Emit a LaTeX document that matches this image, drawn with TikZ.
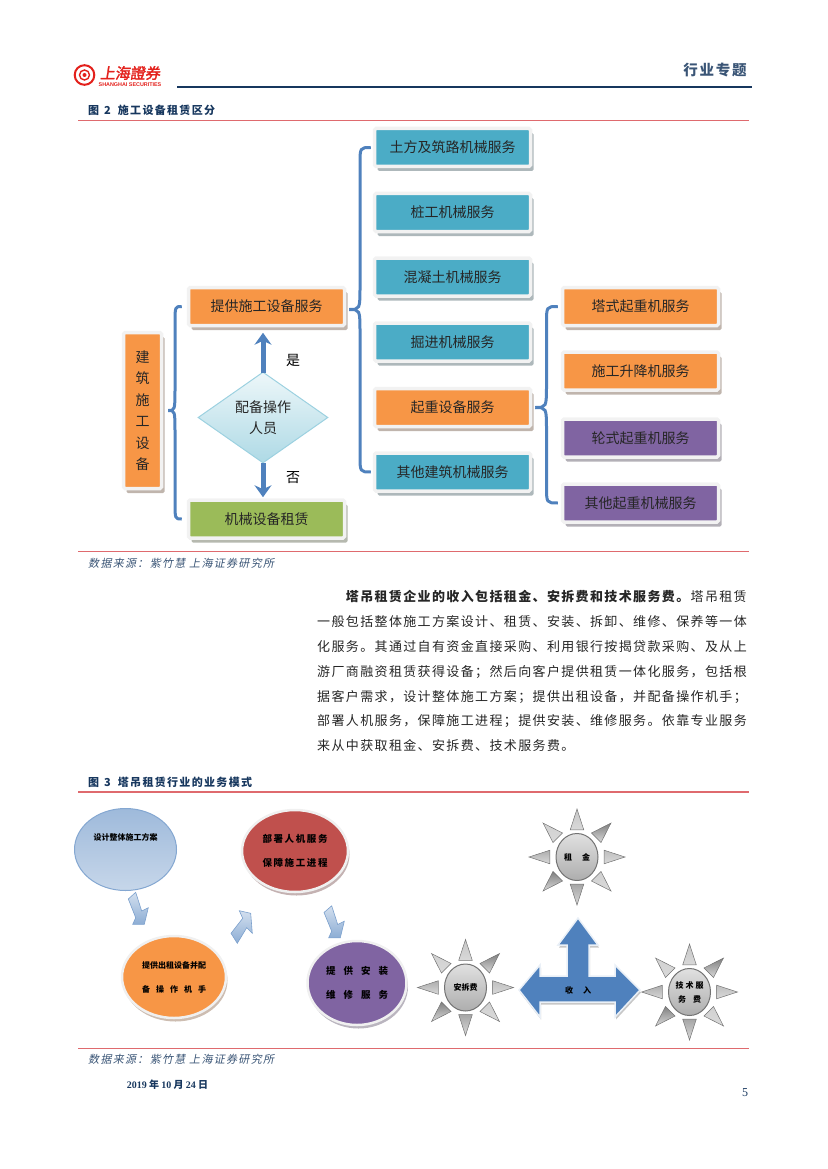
\documentclass[tikz,border=0pt]{standalone}
\usepackage{fontspec}
\setmainfont{Noto Sans CJK SC}
\newfontfamily\bodyfont[LetterSpace=10.5]{Noto Sans CJK SC}
\newfontfamily\titlefont[LetterSpace=12]{Noto Sans CJK SC}
\newfontfamily\sourcefont[FakeSlant=0.2,LetterSpace=12]{Noto Sans CJK SC}
\newfontfamily\logofont[FakeSlant=0.15,FakeBold=2]{Noto Sans CJK SC}
\newfontfamily\latinfont{Liberation Serif}
\newfontfamily\logolatin{Liberation Sans}
\usetikzlibrary{shapes.geometric, arrows.meta, calc, shadows}
\definecolor{leaseblue}{HTML}{4BACC6}
\definecolor{leaseorange}{HTML}{F79646}
\definecolor{leasepurple}{HTML}{8064A2}
\definecolor{leasegreen}{HTML}{9BBB59}
\definecolor{leasered}{HTML}{C0504D}
\definecolor{linkblue}{HTML}{4F81BD}
\definecolor{headnavy}{HTML}{17375E}
\definecolor{rulered}{HTML}{DF6A6E}
\definecolor{logored}{HTML}{E3211C}
\definecolor{textdark}{HTML}{262626}
\tikzset{
  svcbox/.style={rectangle, minimum width=156pt, minimum height=38pt, inner sep=0pt,
    rounded corners=1.5pt, draw=black!5, line width=3.5pt, text=textdark,
    font=\fontsize{14}{17}\selectfont, fill=#1,
    drop shadow={shadow xshift=3pt, shadow yshift=-4.5pt, opacity=1, fill=#1!30!black!35}},
  bracearm/.style={draw=linkblue, line width=3pt},
  bracecurve/.style={to path={let \p1=(\tikztostart), \p2=(\tikztotarget),
    \n1={0.5*(\x1+\x2)}, \n2={sign(\y2-\y1)*24pt}, \n3={sign(\y2-\y1)*17pt} in
    .. controls (\n1,\y1) .. (\n1,{\y1+\n2}) -- (\n1,{\y2-\n3})
    .. controls (\n1,\y2) .. (\tikztotarget)}},
  flowarrow/.style={draw=linkblue, line width=5pt, -{Stealth[length=12pt,width=17pt,inset=4pt]}},
  titlerule/.style={draw=rulered, line width=1pt},
  figtitle/.style={anchor=west, inner sep=0pt, text=headnavy,
    font=\fontsize{11}{13}\selectfont\titlefont\bfseries},
  sourcenote/.style={anchor=west, inner sep=0pt, text=headnavy!85,
    font=\fontsize{11}{13}\selectfont\sourcefont},
  blob/.style={ellipse, inner sep=0pt, align=center, draw=black!6, line width=2.5pt, fill=#1,
    text=black, font=\fontsize{9.5}{24.5}\selectfont\bfseries,
    drop shadow={shadow xshift=1.5pt, shadow yshift=-3.5pt, opacity=1, fill=#1!45!black!35}},
  ray/.style={draw=black!55, line width=.5pt, top color=black!#1, bottom color=black!#1!black!15},
  sunball/.style={ellipse, minimum width=42pt, minimum height=47pt, inner sep=0pt, align=center,
    draw=black!55, line width=1pt, top color=black!12, bottom color=black!32,
    font=\fontsize{8}{15}\selectfont\bfseries},
  stepchevron/.style={draw=linkblue!75, line width=.6pt, top color=linkblue!25, bottom color=linkblue!65},
  sunrays/.pic={
    \foreach \a/\tone in {0/25, -45/50, -90/22, -135/18, 180/32, 135/50, 90/35, 45/18}{
      \path[ray=\tone] (\a-14:28) -- (\a+14:28) -- (\a:48) -- cycle;
    }
  }
}
\newcommand{\spreadline}[2]{\makebox[#1][s]{#2}}
\newcommand{\zhcomma}{\symbol{"FF0C}}
\newcommand{\zhsemi}{\symbol{"FF1B}}
\newcommand{\zhcolon}{\symbol{"FF1A}}

\begin{document}
\begin{tikzpicture}[x=1pt, y=-1pt]
  \useasboundingbox (0,0) rectangle (827,1169);

  % Page header
  \draw[logored, line width=2pt] (84.5,75) circle (9.8);
  \draw[logored, line width=1.4pt] (84.5,75) circle (5);
  \fill[logored] (84.5,75) circle (2);
  \node[inner sep=0pt, text=logored, font=\fontsize{15}{17}\selectfont\logofont] (logoname) at (130,73) {上海證券};
  \node[inner sep=0pt, text=logored, font=\fontsize{5.4}{6}\selectfont\logolatin\bfseries] (logolatin) at (130,84.5) {SHANGHAI SECURITIES};
  \draw[headnavy, line width=2.2pt] (177,87) -- (752,87);
  \node[inner sep=0pt, text=headnavy!85, font=\fontsize{14.5}{17}\selectfont\titlefont\bfseries] (section) at (715,70) {行业专题};

  % Figure 2 frame
  \node[figtitle] (figtwo) at (88,110) {图\hspace{5pt}2\hspace{7pt}施工设备租赁区分};
  \draw[titlerule] (78,120.5) -- (749,120.5);
  \draw[titlerule] (78,551.5) -- (749,551.5);
  \node[sourcenote] (sourcetwo) at (88,563) {数据来源\zhcolon 紫竹慧 上海证券研究所};

  % Left column
  \node[svcbox=leaseorange, minimum width=38pt, minimum height=156pt, align=center,
    font=\fontsize{14}{21.5}\selectfont] (build) at (142.5,410.5) {建\\筑\\施\\工\\设\\备};
  \node[svcbox=leaseorange] (supply) at (266.5,306.5) {提供施工设备服务};
  \node[svcbox=leasegreen] (hire) at (266.5,519) {机械设备租赁};
  \node[diamond, aspect=1.43, minimum width=130pt, minimum height=91pt, inner sep=0pt, align=center,
    draw=leaseblue!55, line width=1pt, top color=leaseblue!10, bottom color=leaseblue!45,
    text=textdark, font=\fontsize{14}{21}\selectfont] (crew) at (263,417.5) {配备操作\\人员};
  \node[inner sep=0pt, font=\fontsize{14}{17}\selectfont] (yes) at (293,360) {是};
  \node[inner sep=0pt, font=\fontsize{14}{17}\selectfont] (no) at (293,478) {否};

  % Middle column
  \node[svcbox=leaseblue] (earth) at (452.5,147.5) {土方及筑路机械服务};
  \node[svcbox=leaseblue] (pile) at (452.5,212.5) {桩工机械服务};
  \node[svcbox=leaseblue] (concrete) at (452.5,277) {混凝土机械服务};
  \node[svcbox=leaseblue] (tunnel) at (452.5,342) {掘进机械服务};
  \node[svcbox=leaseorange] (lift) at (452.5,407.5) {起重设备服务};
  \node[svcbox=leaseblue] (other) at (452.5,472) {其他建筑机械服务};

  % Right column
  \node[svcbox=leaseorange] (tower) at (640.5,306.5) {塔式起重机服务};
  \node[svcbox=leaseorange] (hoist) at (640.5,371) {施工升降机服务};
  \node[svcbox=leasepurple] (wheel) at (640.5,438) {轮式起重机服务};
  \node[svcbox=leasepurple] (othercrane) at (640.5,503) {其他起重机械服务};

  % Braces
  \draw[bracearm] ([xshift=5pt]build.east) to[bracecurve] ([xshift=-5pt]supply.west);
  \draw[bracearm] ([xshift=5pt]build.east) to[bracecurve] ([xshift=-5pt]hire.west);
  \draw[bracearm] ([xshift=3pt,yshift=-3pt]supply.east) to[bracecurve] ([xshift=-2pt]earth.west);
  \draw[bracearm] ([xshift=3pt,yshift=-3pt]supply.east) to[bracecurve] ([xshift=-2pt]other.west);
  \draw[bracearm] ([xshift=3pt]lift.east) to[bracecurve] ([xshift=-3pt]tower.west);
  \draw[bracearm] ([xshift=3pt]lift.east) to[bracecurve] ([xshift=-3pt]othercrane.west);

  % Yes and no arrows
  \draw[flowarrow, shorten >=5.5pt, shorten <=-1pt] (crew.north) -- (crew.north |- supply.south);
  \draw[flowarrow, shorten >=1pt, shorten <=-1pt] (crew.south) -- (crew.south |- hire.north);

  % Body text
  \node[anchor=north west, inner sep=0pt, align=left, text=textdark,
    font=\fontsize{13}{24.8}\selectfont\bodyfont] (body) at (317,590.5) {%
    \hspace{28.7pt}\textbf{塔吊租赁企业的收入包括租金、安拆费和技术服务费。}塔吊租赁\\
    一般包括整体施工方案设计、租赁、安装、拆卸、维修、保养等一体\\
    化服务。其通过自有资金直接采购、利用银行按揭贷款采购、及从上\\
    游厂商融资租赁获得设备\zhsemi 然后向客户提供租赁一体化服务\zhcomma 包括根\\
    据客户需求\zhcomma 设计整体施工方案\zhsemi 提供出租设备\zhcomma 并配备操作机手\zhsemi\\
    部署人机服务\zhcomma 保障施工进程\zhsemi 提供安装、维修服务。依靠专业服务\\
    来从中获取租金、安拆费、技术服务费。};

  % Figure 3 frame
  \node[figtitle] (figthree) at (88,782) {图\hspace{5pt}3\hspace{7pt}塔吊租赁行业的业务模式};
  \draw[titlerule, line width=1.2pt] (78,792) -- (749,792);
  \draw[titlerule] (78,1048.5) -- (749,1048.5);
  \node[sourcenote] (sourcethree) at (88,1059) {数据来源\zhcolon 紫竹慧 上海证券研究所};

  % Business steps
  \node[ellipse, minimum width=102pt, minimum height=82pt, inner sep=0pt, draw=linkblue!70,
    line width=1pt, top color=linkblue!55, bottom color=linkblue!32] (plan) at (125.5,849.5) {};
  \node[inner sep=0pt, font=\fontsize{8}{10}\selectfont\bfseries] (planlabel) at (125.5,837) {设计整体施工方案};
  \node[blob=leasered, minimum width=106pt, minimum height=82pt] (deploy) at (295,851)
    {\spreadline{65pt}{部 署 人 机 服 务}\\\spreadline{65pt}{保 障 施 工 进 程}};
  \node[blob=leaseorange, minimum width=104pt, minimum height=82pt, font=\fontsize{8}{24}\selectfont\bfseries] (rental) at (174,977)
    {提供出租设备并配\\\spreadline{64pt}{备 操 作 机 手}};
  \node[blob=leasepurple, minimum width=99pt, minimum height=84pt] (service) at (357,983)
    {\spreadline{62pt}{提 供 安 装}\\\spreadline{62pt}{维 修 服 务}};

  % Step arrows
  \draw[stepchevron] (128.3,899) -- (135.7,892.3) -- (141.7,911) -- (148.3,907.7) -- (144.3,924.3)
    -- (132.7,924.3) -- (135.7,917.7) -- cycle;
  \draw[stepchevron] (231,933.3) -- (237.3,943.3) -- (246.7,927.7) -- (252.3,933.3) -- (250.7,913.3)
    -- (239.3,910.7) -- (242.7,918.3) -- cycle;
  \draw[stepchevron] (324,912.5) -- (331.7,905.8) -- (337.7,924.5) -- (344.3,921.2) -- (340.3,937.8)
    -- (328.7,937.8) -- (331.7,931.2) -- cycle;

  % Income arrow
  \draw[draw=linkblue!12, line width=1.5pt, fill=linkblue,
    drop shadow={shadow xshift=1pt, shadow yshift=-2.5pt, opacity=1, fill=black!22}]
    (578,918) -- (598,945) -- (589,945) -- (589,976)
    -- (615,976) -- (615,965) -- (640,990) -- (615,1017) -- (615,1002) -- (540,1002) -- (540,1017)
    -- (519,990) -- (540,965) -- (540,976) -- (567,976) -- (567,945) -- (558,945) -- cycle;
  \node[inner sep=0pt, font=\fontsize{8}{10}\selectfont\bfseries] (income) at (578,990) {\spreadline{26pt}{收 入}};

  % Income suns
  \pic at (577,857) {sunrays};
  \pic at (465.5,987.5) {sunrays};
  \pic at (689.5,992) {sunrays};
  \node[sunball] (rent) at (577,857) {\spreadline{26pt}{租 金}};
  \node[sunball] (dismantle) at (465.5,987.5) {安拆费};
  \node[sunball] (techfee) at (689.5,992) {\spreadline{28pt}{技 术 服}\\[-1pt]\spreadline{23pt}{务 费}};

  % Page footer
  \node[inner sep=0pt, text=headnavy, font=\fontsize{10}{12}\selectfont\bfseries] (date) at (167.5,1085) {{\latinfont\bfseries 2019} 年 {\latinfont\bfseries 10} 月 {\latinfont\bfseries 24} 日};
  \node[inner sep=0pt, text=headnavy, font=\fontsize{12}{14}\selectfont\latinfont] (page) at (745,1093) {5};
\end{tikzpicture}
\end{document}
